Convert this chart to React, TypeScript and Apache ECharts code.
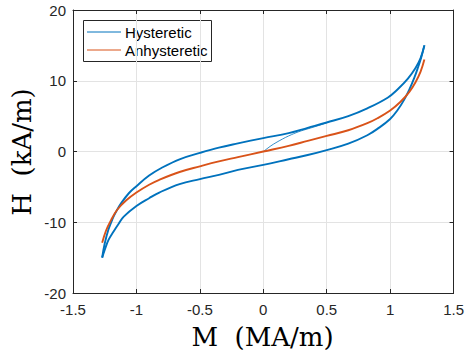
import React, { useEffect, useRef } from "react";
import * as echarts from "echarts";

// ---- Data ----
// Hysteretic loop, ascending (upper) branch: M (MA/m) -> H (kA/m)
const upperM = [-1.27, -1.25, -1.22, -1.19, -1.16, -1.12, -1.06, -1.0, -0.9, -0.8, -0.66, -0.5, -0.35, -0.2, 0.0, 0.2, 0.35, 0.5, 0.67, 0.82, 0.98, 1.06, 1.14, 1.2, 1.24, 1.27];
const upperH = [-15.0, -13.0, -11.0, -9.6, -8.5, -7.3, -5.9, -4.9, -3.4, -2.3, -1.1, -0.2, 0.55, 1.15, 1.9, 2.6, 3.35, 4.1, 5.0, 6.1, 7.6, 8.8, 10.3, 11.8, 13.2, 15.0];

// Hysteretic loop, descending (lower) branch
const lowerM = [-1.27, -1.25, -1.22, -1.18, -1.14, -1.1, -1.0, -0.9, -0.82, -0.66, -0.5, -0.35, -0.2, 0.0, 0.2, 0.35, 0.5, 0.67, 0.82, 0.9, 1.0, 1.06, 1.11, 1.15, 1.19, 1.22, 1.245, 1.27];
const lowerH = [-15.0, -13.9, -12.5, -11.3, -10.2, -9.2, -7.7, -6.6, -5.8, -4.6, -3.9, -3.3, -2.6, -1.9, -1.1, -0.5, 0.2, 1.1, 2.3, 3.2, 4.6, 5.9, 7.3, 8.7, 10.4, 11.9, 13.3, 15.0];

// Initial magnetisation curve
const initM = [0.0, 0.03, 0.06, 0.1, 0.15, 0.2, 0.28, 0.36, 0.45, 0.52];
const initH = [0.0, 0.4, 0.8, 1.25, 1.75, 2.2, 2.8, 3.25, 3.75, 4.2];

// Anhysteretic curve
const anhM = [-1.27, -1.24, -1.2, -1.15, -1.08, -1.0, -0.9, -0.82, -0.66, -0.5, -0.35, -0.2, 0.0, 0.2, 0.35, 0.5, 0.67, 0.82, 0.9, 1.0, 1.08, 1.15, 1.2, 1.24, 1.27];
const anhH = [-12.9, -11.2, -9.7, -8.2, -6.9, -5.8, -4.7, -4.0, -2.9, -2.1, -1.4, -0.8, 0.0, 0.8, 1.5, 2.2, 3.0, 4.0, 4.7, 5.8, 7.0, 8.4, 9.8, 11.3, 13.0];

const legendNames = ["Hysteretic", "Anhysteretic"];
const xLabel = "M  (MA/m)";
const yLabel = "H  (kA/m)";

const zip = (a: number[], b: number[]) => a.map((v, i) => [v, b[i]]);

const BLUE = "#0072BD";
const ORANGE = "#D95319";
const AX = "#262626";
const SANS = "'Liberation Sans', Arial, Helvetica, sans-serif";
const SERIF = "'DejaVu Serif', serif";

export default function App() {
  const ref = useRef<HTMLDivElement>(null);
  useEffect(() => {
    if (!ref.current) return;
    const chart = echarts.init(ref.current, undefined, { renderer: "svg" });
    const tickCommon = { show: true, inside: true, length: 4, lineStyle: { color: AX, width: 1 } };
    const axisLineCommon = { show: true, onZero: false, lineStyle: { color: AX, width: 1 } };
    const lineSeries = (name: string, data: number[][], color: string, width: number) => ({
      name, type: "line", data, symbol: "none", smooth: 0.4,
      lineStyle: { color, width }, itemStyle: { color },
    });
    chart.setOption({
      animation: false,
      backgroundColor: "#ffffff",
      grid: { left: 73, right: 11, top: 10, bottom: 60, containLabel: false },
      xAxis: [
        {
          type: "value", position: "bottom", min: -1.5, max: 1.5, interval: 0.5,
          axisLine: axisLineCommon, axisTick: tickCommon,
          axisLabel: { color: AX, fontSize: 15, fontFamily: SANS, margin: 9 },
          splitLine: { show: true, lineStyle: { color: "#e3e3e3", width: 1 } },
        },
        {
          type: "value", position: "top", min: -1.5, max: 1.5, interval: 0.5,
          axisLine: axisLineCommon, axisTick: tickCommon,
          axisLabel: { show: false }, splitLine: { show: false },
        },
      ],
      yAxis: [
        {
          type: "value", position: "left", min: -20, max: 20, interval: 10,
          axisLine: axisLineCommon, axisTick: tickCommon,
          axisLabel: { color: AX, fontSize: 15, fontFamily: SANS, margin: 7 },
          splitLine: { show: true, lineStyle: { color: "#e3e3e3", width: 1 } },
        },
        {
          type: "value", position: "right", min: -20, max: 20, interval: 10,
          axisLine: axisLineCommon, axisTick: tickCommon,
          axisLabel: { show: false }, splitLine: { show: false },
        },
      ],
      series: [
        lineSeries(legendNames[0], zip(upperM, upperH), BLUE, 1.9),
        lineSeries(legendNames[0], zip(lowerM, lowerH), BLUE, 1.9),
        lineSeries("Initial", zip(initM, initH), BLUE, 0.8),
        lineSeries(legendNames[1], zip(anhM, anhH), ORANGE, 1.9),
      ],
      graphic: [
        {
          type: "group", z: 100,
          children: [
            { type: "rect", shape: { x: 83.5, y: 20.5, width: 128, height: 41 }, style: { fill: "#ffffff", stroke: AX, lineWidth: 1 } },
            { type: "line", shape: { x1: 87, y1: 32, x2: 121, y2: 32 }, style: { stroke: BLUE, lineWidth: 1 } },
            { type: "line", shape: { x1: 87, y1: 50, x2: 121, y2: 50 }, style: { stroke: ORANGE, lineWidth: 1 } },
            { type: "text", x: 125, y: 32.5, style: { text: legendNames[0], font: `15px ${SANS}`, fill: "#000000", textAlign: "left", textVerticalAlign: "middle" } },
            { type: "text", x: 125, y: 50.5, style: { text: legendNames[1], font: `15px ${SANS}`, fill: "#000000", textAlign: "left", textVerticalAlign: "middle" } },
          ],
        },
        {
          type: "text", x: 262.5, y: 337,
          style: { text: xLabel, font: `26px ${SERIF}`, fill: "#000000", textAlign: "center", textVerticalAlign: "middle" },
        },
        {
          type: "text", x: 22, y: 152, rotation: Math.PI / 2,
          style: { text: yLabel, font: `26px ${SERIF}`, fill: "#000000", textAlign: "center", textVerticalAlign: "middle" },
        },
      ],
    });
    return () => chart.dispose();
  }, []);
  return <div ref={ref} style={{ position: "fixed", left: 0, top: 0, width: 467, height: 353 }} />;
}
